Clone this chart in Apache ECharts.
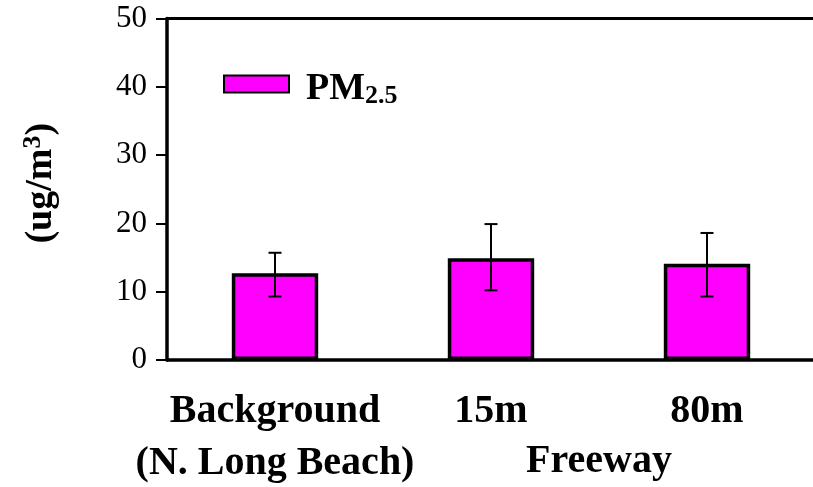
<!DOCTYPE html>
<html>
<head>
<meta charset="utf-8">
<script src="https://cdn.jsdelivr.net/npm/echarts@6/dist/echarts.min.js"></script>
<style>html,body{margin:0;padding:0;background:#fff}#c{width:813px;height:487px}</style>
</head>
<body>
<div id="c"></div>
<script>
var categories = ['Background\n(N. Long Beach)', '15m', '80m'];
var pmValues = [12.7, 14.9, 14.1];
var errLow = [9.3, 10.2, 9.3];
var errHigh = [15.7, 19.9, 18.6];
var yTicks = [0, 10, 20, 30, 40, 50];
var groupLabel = 'Freeway';

var chart = echarts.init(document.getElementById('c'), null, {renderer: 'canvas'});
var serif = '"Liberation Serif", "Times New Roman", serif';
var errData = categories.map(function (c, i) { return [i, errLow[i], errHigh[i]]; });

chart.setOption({
  animation: false,
  backgroundColor: '#fff',
  grid: {left: 167, top: 18.5, right: -2, bottom: 127, show: false, containLabel: false, outerBoundsMode: 'none'},
  legend: {
    left: 223, top: 70, padding: 0, itemWidth: 65, itemHeight: 17, itemGap: 16, icon: 'rect',
    data: ['PM2.5'],
    formatter: function () { return '{a|PM}{b|2.5}'; },
    textStyle: {rich: {a: {fontFamily: serif, fontWeight: 'bold', fontSize: 38, color: '#000', padding: [10, 0, 0, 12]}, b: {fontFamily: serif, fontWeight: 'bold', fontSize: 26, color: '#000', verticalAlign: 'bottom', padding: [24,0,0,0]}}}
  },
  xAxis: [{
    type: 'category', data: categories,
    axisLine: {lineStyle: {color: '#000', width: 3.5}},
    axisTick: {show: false},
    axisLabel: {fontFamily: serif, fontWeight: 'bold', fontSize: 40, color: '#000', margin: 26, lineHeight: 52, interval: 0}
  }, {
    type: 'category', data: categories, position: 'top',
    axisLine: {show: true, lineStyle: {color: '#000', width: 3}},
    axisTick: {show: false}, axisLabel: {show: false}
  }],
  yAxis: {
    type: 'value', min: yTicks[0], max: yTicks[yTicks.length - 1], interval: 10,
    splitLine: {show: false},
    axisLine: {show: true, lineStyle: {color: '#000', width: 3.5}},
    axisTick: {show: true, length: 11, lineStyle: {color: '#000', width: 2}},
    axisLabel: {fontFamily: serif, fontSize: 31, color: '#000', margin: 20},
    name: '{a|(ug/m}{b|3}{a|)}', nameLocation: 'middle', nameGap: 105,
    nameTextStyle: {padding: [0, 0, 0, 12], rich: {a: {fontFamily: serif, fontWeight: 'bold', fontSize: 38, color: '#000'}, b: {fontFamily: serif, fontWeight: 'bold', fontSize: 26, color: '#000', verticalAlign: 'top', padding: [0,0,16,0]}}}
  },
  series: [
    {
      name: 'PM2.5', type: 'bar', data: pmValues, barWidth: '40%',
      itemStyle: {color: '#FF00FF', borderColor: '#000', borderWidth: 3.5}
    },
    {
      name: 'err', type: 'custom', data: errData, z: 5,
      renderItem: function (params, api) {
        var x = api.value(0);
        var lo = api.coord([x, api.value(1)]);
        var hi = api.coord([x, api.value(2)]);
        var cap = 6.5;
        var st = {stroke: '#000', lineWidth: 2};
        return {type: 'group', children: [
          {type: 'line', shape: {x1: hi[0], y1: hi[1], x2: lo[0], y2: lo[1]}, style: st},
          {type: 'line', shape: {x1: hi[0] - cap, y1: hi[1], x2: hi[0] + cap, y2: hi[1]}, style: st},
          {type: 'line', shape: {x1: lo[0] - cap, y1: lo[1], x2: lo[0] + cap, y2: lo[1]}, style: st}
        ]};
      }
    }
  ]
});

var p1 = chart.convertToPixel({xAxisIndex: 0}, 1);
var p2 = chart.convertToPixel({xAxisIndex: 0}, 2);
chart.setOption({
  graphic: [{type: 'text', x: (p1 + p2) / 2, y: 462, style: {text: groupLabel, fontFamily: serif, fontWeight: 'bold', fontSize: 40, fill: '#000', textAlign: 'center', textVerticalAlign: 'middle'}}]
});
</script>
</body>
</html>
